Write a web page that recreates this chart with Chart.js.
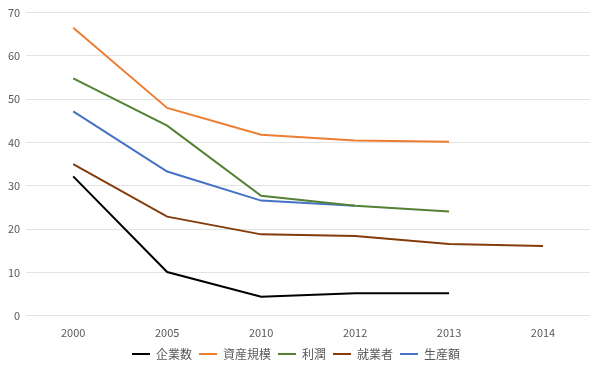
<!DOCTYPE html>
<html>
<head>
<meta charset="utf-8">
<script src="https://cdn.jsdelivr.net/npm/chart.js@4"></script>
<style>
  html, body { margin: 0; padding: 0; background: #fff; }
  #wrap { width: 600px; height: 370px; }
</style>
</head>
<body>
<div id="wrap"><canvas id="chart"></canvas></div>
<script>
const years = ["2000", "2005", "2010", "2012", "2013", "2014"]
const companies = [32.2, 10.1, 4.4, 5.2, 5.2, null]
const assets = [66.5, 48.0, 41.8, 40.5, 40.2, null]
const profit = [54.8, 43.9, 27.7, 25.4, 24.1, null]
const workers = [35.0, 22.9, 18.8, 18.4, 16.6, 16.1]
const output = [47.2, 33.3, 26.6, 25.4, null, null]
const yTicks = [0, 10, 20, 30, 40, 50, 60, 70]

const font = "'Noto Sans CJK JP', 'Liberation Sans', sans-serif"

const line = (label, data, color) => ({
  label,
  data,
  borderColor: color,
  backgroundColor: color,
  borderWidth: 2,
  pointRadius: 0,
  pointHoverRadius: 0,
  tension: 0,
  spanGaps: false
})

new Chart(document.getElementById("chart"), {
  type: "line",
  data: {
    labels: years,
    datasets: [
      line("企業数", companies, "#000000"),
      line("資産規模", assets, "#ED7D31"),
      line("利潤", profit, "#548235"),
      line("就業者", workers, "#843C0C"),
      line("生産額", output, "#4472C4")
    ]
  },
  options: {
    responsive: true,
    maintainAspectRatio: false,
    animation: false,
    layout: { padding: { top: 0, right: 10, left: 2, bottom: 0 } },
    plugins: {
      legend: {
        position: "bottom",
        labels: {
          usePointStyle: true,
          pointStyle: "line",
          pointStyleWidth: 18,
          boxWidth: 18,
          boxHeight: 2,
          padding: 7,
          color: "#595959",
          font: { family: font, size: 12 }
        }
      },
      tooltip: { enabled: false }
    },
    scales: {
      x: {
        offset: true,
        grid: { display: false },
        border: { display: false },
        ticks: { color: "#595959", font: { family: font, size: 11 }, padding: 2 }
      },
      y: {
        min: 0,
        max: 70,
        afterBuildTicks: (axis) => { axis.ticks = yTicks.map(v => ({ value: v })) },
        grid: { color: "#e3e3e3", lineWidth: 1, drawTicks: false },
        border: { display: false },
        ticks: { color: "#595959", font: { family: font, size: 11 }, padding: 6 }
      }
    }
  }
})
</script>
</body>
</html>
